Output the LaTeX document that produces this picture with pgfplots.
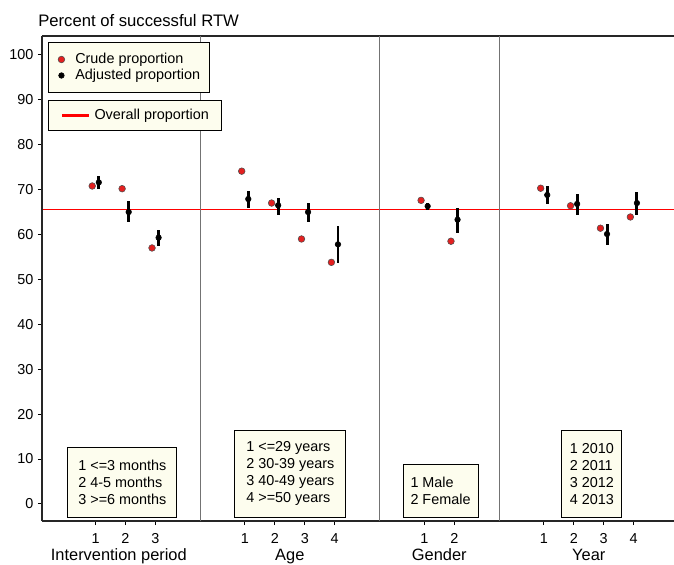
\documentclass[border=0pt]{standalone}
\usepackage{fontspec}
\setmainfont{Liberation Sans}
\usepackage{pgfplots}
\pgfplotsset{compat=1.18}
\usepackage{pgfplotstable}

\definecolor{boxfill}{RGB}{253,253,238}
\definecolor{crudered}{RGB}{228,32,32}
\definecolor{overall}{RGB}{255,0,0}

\pgfplotstableread{
x y
0.89 70.8
1.89 70.2
2.89 57.0
5.89 74.1
6.89 67.0
7.89 59.0
8.89 53.8
11.89 67.6
12.89 58.5
15.89 70.3
16.89 66.4
17.89 61.4
18.89 63.9
}\crude

\pgfplotstableread{
x y ep em
1.11 71.6 1.5 1.5
2.11 65.0 2.5 2.3
3.11 59.3 1.8 1.8
6.11 67.9 1.8 2.1
7.11 66.5 1.7 2.1
8.11 65.0 2.0 2.3
9.11 57.8 4.0 4.2
12.11 66.3 0.8 0.8
13.11 63.3 2.5 2.9
16.11 68.8 1.9 2.1
17.11 66.8 2.2 2.4
18.11 60.1 2.3 2.4
19.11 67.0 2.4 2.6
}\adj

\pgfplotstableread{
x y
-0.79 65.5
20.35 65.5
}\overallline

\pgfplotsset{
  rtwbase/.style={
    scale only axis, width=474pt, height=363.75pt,
    xmin=-0.79, xmax=20.35, ymin=-3.8, ymax=104.2,
  },
}

\begin{document}
\begin{tikzpicture}
% overall proportion line, alone in a hidden axis
\begin{axis}[rtwbase, hide axis]
\addplot[overall, line width=1pt, no marks, mark=none] table[x=x, y=y] {\overallline};
\end{axis}

\begin{axis}[rtwbase, clip=false,
  axis x line*=box, axis y line*=left,
  xtick pos=lower, ytick pos=left,
  axis line style={black!85, line width=0.9pt},
  xtick={1,2,3,6,7,8,9,12,13,16,17,18,19},
  xticklabels={1,2,3,1,2,3,4,1,2,1,2,3,4},
  ytick={0,10,...,100},
  tick align=outside, major tick length=3pt,
  tick style={black, line width=0.75pt},
  extra x ticks={4.5,10.5,14.5}, extra x tick labels={},
  extra x tick style={grid=major, major grid style={black!55, line width=0.75pt}, major tick length=0pt},
  /pgf/number format/assume math mode=true,
  tick label style={font=\fontsize{10.8}{13}\selectfont, black},
  xticklabel style={yshift=-3pt},
  legend style={at={(rel axis cs:0,1)}, anchor=north west,
    xshift=4.5pt, yshift=-4.5pt, fill=boxfill, draw=black, line width=0.75pt,
    font=\fontsize{10.8}{12}\selectfont, inner xsep=7.2pt, inner ysep=7.5pt, row sep=1.5pt,
    nodes={inner sep=0pt, anchor=west, text height=8pt, text depth=2.5pt},
    /tikz/every odd column/.append style={column sep=7.9pt}},
  legend cell align=left,
  legend image code/.code={\draw[#1] plot coordinates {(0pt,0pt)};},
]
\addplot[only marks, mark=*, mark size=2.5pt,
  mark options={fill=crudered, draw=black!70, line width=0.4pt}]
  table[x=x, y=y] {\crude};
\addlegendentry{Crude proportion}
\addplot[only marks, mark=*, mark size=2.1pt,
  mark options={fill=black, draw=black, line width=0.4pt},
  error bars/.cd, y dir=both, y explicit,
  error mark=none, error bar style={line width=2.2pt, black}]
  table[x=x, y=y, y error plus=ep, y error minus=em] {\adj};
\addlegendentry{Adjusted proportion}

\coordinate (sw) at (rel axis cs:0,0);
\coordinate (ne) at (rel axis cs:1,1);

% title
\node[anchor=base west, font=\fontsize{12.5}{14}\selectfont, inner sep=0pt, xshift=-3pt, yshift=7pt]
  at (rel axis cs:0,1) {Percent of successful RTW};

% group labels
\tikzset{grouplab/.style={anchor=base, font=\fontsize{12.3}{15}\selectfont, inner sep=0pt, yshift=-29.25pt}}
\node[grouplab] at (axis cs:1.78,-3.8) {Intervention period};
\node[grouplab] at (axis cs:7.5,-3.8) {Age};
\node[grouplab] at (axis cs:12.5,-3.8) {Gender};
\node[grouplab] at (axis cs:17.5,-3.8) {Year};

% key boxes
\tikzset{keybox/.style={anchor=south, fill=boxfill, draw=black, line width=0.75pt,
  align=left, font=\fontsize{10.8}{12.75}\selectfont, inner xsep=0pt, inner ysep=0pt, yshift=2.5pt}}
\node[keybox, minimum width=81.75pt, minimum height=52.5pt] at (axis cs:1.9,-3.8)
  {1 <=3 months\\2 4-5 months\\3 >=6 months};
\node[keybox, minimum width=83.25pt, minimum height=65.25pt] at (axis cs:7.52,-3.8)
  {1 <=29 years\\2 30-39 years\\3 40-49 years\\4 >=50 years};
\node[keybox, minimum width=56.25pt, minimum height=39.75pt] at (axis cs:12.54,-3.8)
  {1 Male\\2 Female};
\node[keybox, minimum width=45pt, minimum height=65.25pt] at (axis cs:17.6,-3.8)
  {1 2010\\2 2011\\3 2012\\4 2013};
\end{axis}

% second legend
\begin{axis}[rtwbase, hide axis,
  legend style={at={(rel axis cs:0,1)}, anchor=north west,
    xshift=4.5pt, yshift=-48pt, fill=boxfill, draw=black, line width=0.75pt,
    font=\fontsize{10.8}{12}\selectfont, inner xsep=9.75pt, inner ysep=6pt,
    nodes={inner sep=0pt, anchor=west, text height=8pt, text depth=2.5pt},
    /tikz/every odd column/.append style={column sep=4.5pt}},
  legend image code/.code={\fill[overall] (0pt,-0.5pt) rectangle (19.5pt,0.5pt);},
]
\addlegendimage{fill=overall}
\addlegendentry{Overall proportion}
\end{axis}

\pgfresetboundingbox
\path[use as bounding box] ([xshift=-31.5pt,yshift=-32.25pt]sw) rectangle ([yshift=27pt]ne);
\end{tikzpicture}
\end{document}
